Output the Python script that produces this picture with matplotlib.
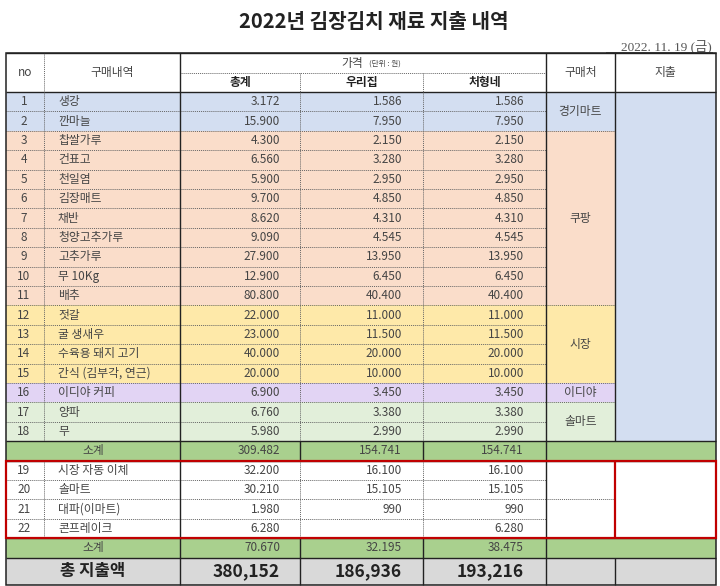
import matplotlib
matplotlib.use("Agg")
import matplotlib.pyplot as plt
from matplotlib.patches import Rectangle

plt.rcParams['font.family'] = ['Noto Sans CJK KR', 'DejaVu Sans']

# ---------------- data ----------------
title = "2022년 김장김치 재료 지출 내역"
date_text = "2022. 11. 19 (금)"
nos = list(range(1, 23))
items = ["생강", "깐마늘", "찹쌀가루", "건표고", "천일염", "김장매트", "채반", "청양고추가루",
         "고추가루", "무 10Kg", "배추", "젓갈", "굴 생새우", "수육용 돼지 고기",
         "간식 (김부각, 연근)", "이디야 커피", "양파", "무",
         "시장 자동 이체", "솔마트", "대파(이마트)", "콘프레이크"]
totals = [3172, 15900, 4300, 6560, 5900, 9700, 8620, 9090, 27900, 12900, 80800,
          22000, 23000, 40000, 20000, 6900, 6760, 5980,
          32200, 30210, 1980, 6280]
ours = [1586, 7950, 2150, 3280, 2950, 4850, 4310, 4545, 13950, 6450, 40400,
        11000, 11500, 20000, 10000, 3450, 3380, 2990,
        16100, 15105, 990, None]
theirs = [1586, 7950, 2150, 3280, 2950, 4850, 4310, 4545, 13950, 6450, 40400,
          11000, 11500, 20000, 10000, 3450, 3380, 2990,
          16100, 15105, 990, 6280]
stores = ["경기마트", "쿠팡", "시장", "이디야", "솔마트"]
store_spans = [2, 9, 4, 1, 2]
store_colors = ["#D3DEF1", "#FADDCA", "#FEE9A9", "#E2D4F4", "#E2EFDA"]
sub1 = [309482, 154741, 154741]
sub2 = [70670, 32195, 38475]
grand = [380152, 186936, 193216]
headers = ["no", "구매내역", "총계", "우리집", "처형네", "구매처", "지출"]

# ---------------- layout ----------------
W, H = 720, 586
fig = plt.figure(figsize=(W / 100, H / 100), dpi=100)
ax = fig.add_axes([0, 0, 1, 1])
ax.set_xlim(0, W)
ax.set_ylim(H, 0)
ax.axis("off")

X = [6, 44, 180, 300, 423, 546, 615, 716]   # column edges
top, hmid, hbot = 53, 73, 92
rh = 19.4
TXT = "#454545"
DOT = (0, (1, 1))
SOLID_C = "#222222"
DOT_C = "#666666"


def fmt(v, sep="."):
    if v is None:
        return ""
    return f"{v:,}".replace(",", sep)


def hline(y, x0, x1, dotted=False, color=None, lw=None):
    ax.plot([x0, x1], [y, y], color=color or (DOT_C if dotted else SOLID_C),
            lw=lw or (0.7 if dotted else 1.0), ls=DOT if dotted else "-",
            solid_capstyle="butt")


def vline(x, y0, y1, dotted=False, color=None, lw=None):
    ax.plot([x, x], [y0, y1], color=color or (DOT_C if dotted else SOLID_C),
            lw=lw or (0.7 if dotted else 1.0), ls=DOT if dotted else "-",
            solid_capstyle="butt")


def rect(x0, y0, x1, y1, color):
    ax.add_patch(Rectangle((x0, y0), x1 - x0, y1 - y0, facecolor=color,
                           edgecolor="none", zorder=0))


# row y positions
row_top = []
y = hbot
for i in range(18):
    row_top.append(y)
    y += rh
sub1_top = y
y += rh
for i in range(4):
    row_top.append(y)
    y += rh
sub2_top = y
y += rh
grand_top = y
bottom = H - 1

# row colors (rows 1-18) from store groups
row_colors = []
for c, n in zip(store_colors, store_spans):
    row_colors += [c] * n
row_colors += ["white"] * 4

# ---------------- fills ----------------
for i in range(22):
    rect(X[0], row_top[i], X[5], row_top[i] + rh, row_colors[i])
# store column
gy = hbot
for s, n, c in zip(stores, store_spans, store_colors):
    rect(X[5], gy, X[6], gy + n * rh, c)
    ax.text((X[5] + X[6]) / 2, gy + n * rh / 2, s, ha="center", va="center",
            fontsize=8.5, color=TXT)
    gy += n * rh
# spend column (merged, rows 1-18)
rect(X[6], hbot, X[7], sub1_top, store_colors[0])
# subtotal rows
SUBC = "#A9D08E"
rect(X[0], sub1_top, X[7], sub1_top + rh, SUBC)
rect(X[0], sub2_top, X[7], sub2_top + rh, SUBC)
rect(X[0], grand_top, X[7], bottom, "#D9D9D9")

# ---------------- title / date ----------------
ax.text(374, 21, title, ha="center", va="center", fontsize=14.5, fontweight="bold",
        color="#222222")
ax.text(712, 46, date_text, ha="right", va="center", fontsize=9.5,
        color="#555555", family=["Liberation Serif", "Noto Sans CJK KR"])
ax.plot([606, 712], [52, 52], color="#777777", lw=0.7)

# ---------------- header ----------------
hc = (top + hbot) / 2
ax.text((X[0] + X[1]) / 2, hc, headers[0], ha="center", va="center", fontsize=8.5, color=TXT)
ax.text((X[1] + X[2]) / 2, hc, headers[1], ha="center", va="center", fontsize=8.5, color=TXT)
ax.text(352, (top + hmid) / 2 + 1, "가격", ha="center", va="center", fontsize=8.5, color=TXT)
ax.text(385, (top + hmid) / 2 + 1, "(단위 : 원)", ha="center", va="center", fontsize=5.5, color=TXT)
for k in range(3):
    ax.text((X[2 + k] + X[3 + k]) / 2, (hmid + hbot) / 2, headers[2 + k], ha="center",
            va="center", fontsize=8.5, color="#222222", fontweight="bold")
ax.text((X[5] + X[6]) / 2, hc, headers[5], ha="center", va="center", fontsize=8.5, color=TXT)
ax.text((X[6] + X[7]) / 2, hc, headers[6], ha="center", va="center", fontsize=8.5, color=TXT)

# ---------------- body text ----------------
for i in range(22):
    yc = row_top[i] + rh / 2
    ax.text((X[0] + X[1]) / 2 - 1, yc, str(nos[i]), ha="center", va="center", fontsize=8.5, color=TXT)
    ax.text(58, yc, items[i], ha="left", va="center", fontsize=8.5, color=TXT)
    ax.text(X[3] - 20, yc, fmt(totals[i]), ha="right", va="center", fontsize=8.5, color=TXT)
    ax.text(X[4] - 21, yc, fmt(ours[i]), ha="right", va="center", fontsize=8.5, color=TXT)
    ax.text(X[5] - 22, yc, fmt(theirs[i]), ha="right", va="center", fontsize=8.5, color=TXT)

for ty, vals in ((sub1_top, sub1), (sub2_top, sub2)):
    yc = ty + rh / 2
    ax.text((X[0] + X[2]) / 2, yc, "소계", ha="center", va="center", fontsize=8.5, color=TXT)
    for k, v in enumerate(vals):
        ax.text(X[3 + k] - 20 - k, yc, fmt(v), ha="right", va="center", fontsize=8.5, color=TXT)

yc = (grand_top + bottom) / 2
ax.text((X[0] + X[2]) / 2, yc, "총 지출액", ha="center", va="center", fontsize=12,
        fontweight="bold", color="#222222")
for k, v in enumerate(grand):
    ax.text(X[3 + k] - 20 - k, yc, fmt(v, ","), ha="right", va="center", fontsize=12.5,
            fontweight="bold", color="#222222")

# ---------------- grid lines ----------------
# header
hline(top, X[0], X[7])
hline(hmid, X[2], X[5], dotted=True)
hline(hbot, X[0], X[7])
vline(X[1], top, hbot, dotted=True)
vline(X[2], top, hbot)
vline(X[3], hmid, hbot, dotted=True)
vline(X[4], hmid, hbot, dotted=True)
vline(X[5], top, hbot)
vline(X[6], top, hbot)

# body rows 1-18
for i in range(1, 18):
    hline(row_top[i], X[0], X[5], dotted=True)
gy = hbot
for n in store_spans[:-1]:
    gy += n * rh
    hline(gy, X[5], X[6], dotted=True)
vline(X[1], hbot, sub1_top, dotted=True)
vline(X[2], hbot, sub1_top)
vline(X[3], hbot, sub1_top, dotted=True)
vline(X[4], hbot, sub1_top, dotted=True)
vline(X[5], hbot, sub1_top)
vline(X[6], hbot, sub1_top)

# subtotal rows & grand total
for ty in (sub1_top, sub2_top):
    hline(ty, X[0], X[7])
    hline(ty + rh, X[0], X[7])
    for xx in X[2:6]:
        vline(xx, ty, ty + rh)
for xx in X[2:7]:
    vline(xx, grand_top, bottom)

# rows 19-22
for i in range(19, 22):
    hline(row_top[i], X[0], X[5], dotted=True)
hline(row_top[20], X[5], X[6], dotted=True)
vline(X[1], row_top[18], sub2_top, dotted=True)
vline(X[2], row_top[18], sub2_top)
vline(X[3], row_top[18], sub2_top, dotted=True)
vline(X[4], row_top[18], sub2_top, dotted=True)
vline(X[5], row_top[18], sub2_top)

# outer border
ax.add_patch(Rectangle((X[0], top), X[7] - X[0], bottom - top, facecolor="none",
                       edgecolor=SOLID_C, lw=1.1, zorder=3))
# red box
RED = "#C00000"
ax.add_patch(Rectangle((X[0], row_top[18]), X[7] - X[0], sub2_top - row_top[18],
                       facecolor="none", edgecolor=RED, lw=1.6, zorder=4))
vline(X[6], row_top[18], sub2_top, color=RED, lw=1.6)

fig.savefig("out.png", dpi=100)
